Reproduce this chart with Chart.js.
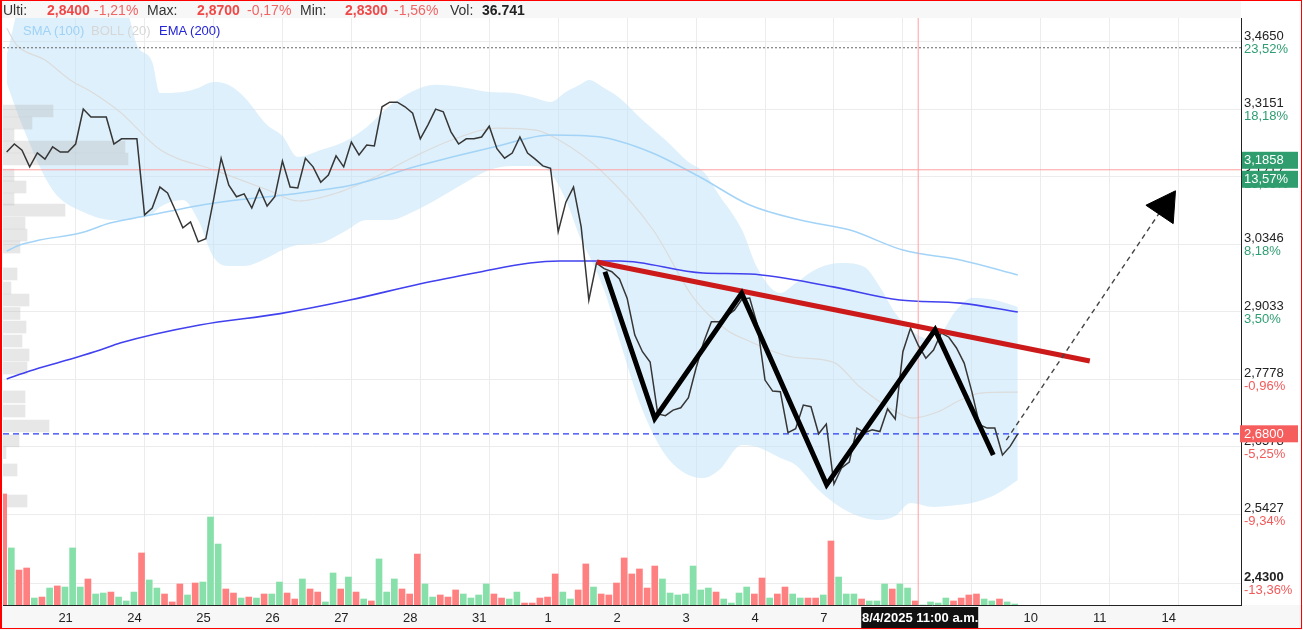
<!DOCTYPE html>
<html>
<head>
<meta charset="utf-8">
<script src="https://cdn.jsdelivr.net/npm/chart.js@4.4.1/dist/chart.umd.min.js"></script>
<style>
  body { margin: 0; background: #fff; }
  #wrap { position: relative; width: 1303px; height: 630px; font-family: "Liberation Sans", Arial, sans-serif; }
  #chart { position: absolute; left: 0; top: 0; }
  .t { position: absolute; white-space: nowrap; }
  .hd { top: 1px; font-size: 14px; line-height: 18px; }
  .lb { color: #333; }
  .vl { color: #f04848; font-weight: bold; }
  .pc { color: #f26464; }
  .lg { top: 23px; font-size: 13px; line-height: 16px; }
  #frame { position: absolute; left: 0; top: 0; width: 1302px; height: 629px; box-sizing: border-box;
           border: 1px solid #ff0000; border-left-width: 2px; pointer-events: none; }
</style>
</head>
<body>
<div id="wrap">
  <canvas id="chart" width="1303" height="630"></canvas>

  <span class="t hd lb" style="left:3px">Ulti:</span>
  <span class="t hd vl" style="left:47px">2,8400</span>
  <span class="t hd pc" style="left:94px">-1,21%</span>
  <span class="t hd lb" style="left:147px">Max:</span>
  <span class="t hd vl" style="left:197px">2,8700</span>
  <span class="t hd pc" style="left:247px">-0,17%</span>
  <span class="t hd lb" style="left:300px">Min:</span>
  <span class="t hd vl" style="left:345px">2,8300</span>
  <span class="t hd pc" style="left:394px">-1,56%</span>
  <span class="t hd lb" style="left:450px">Vol:</span>
  <span class="t hd" style="left:482px;color:#222;font-weight:bold">36.741</span>

  <span class="t lg" style="left:23px;color:#9fd2f6">SMA (100)</span>
  <span class="t lg" style="left:91px;color:#d6d6d6">BOLL (20)</span>
  <span class="t lg" style="left:159px;color:#2424d8">EMA (200)</span>

  <div id="frame"></div>
</div>

<script>
// hourly bars, 9 per session; x value = bar index
const dayTicks  = [9, 18, 27, 36, 45, 54, 63, 72, 81, 90, 99, 108, 117, 126, 135, 144, 153];
const dayLabels = ['21', '24', '25', '26', '27', '28', '31', '1', '2', '3', '4', '7', '8', '9', '10', '11', '14'];

const yTicks   = [3.4650, 3.3151, 3.1717, 3.0346, 2.9033, 2.7778, 2.6578, 2.5427, 2.4300];
const yTickPct = ['23,52%', '18,18%', '13,06%', '8,18%', '3,50%', '-0,96%', '-5,25%', '-9,34%', '-13,36%'];

// last price per bar
const price = [
  3.223, 3.240, 3.227, 3.192, 3.221, 3.208, 3.234, 3.223, 3.223,
  3.240, 3.315, 3.298, 3.298, 3.298, 3.240, 3.251, 3.251, 3.251,
  3.093, 3.107, 3.150, 3.138, 3.103, 3.067, 3.079, 3.039, 3.045,
  3.123, 3.210, 3.154, 3.130, 3.136, 3.107, 3.146, 3.111, 3.130,
  3.204, 3.150, 3.148, 3.210, 3.192, 3.160, 3.175, 3.215, 3.192,
  3.244, 3.217, 3.238, 3.236, 3.320, 3.330, 3.330, 3.320, 3.306,
  3.251, 3.281, 3.315, 3.309, 3.266, 3.240, 3.251, 3.251, 3.255,
  3.278, 3.230, 3.210, 3.221, 3.255, 3.221, 3.208, 3.194, 3.189,
  3.059, 3.119, 3.150, 3.069, 2.925, 2.997, 2.986, 2.980, 2.966,
  2.929, 2.859, 2.828, 2.809, 2.715, 2.712, 2.722, 2.726, 2.744,
  2.798, 2.846, 2.884, 2.884, 2.895, 2.906, 2.927, 2.929, 2.878,
  2.776, 2.756, 2.755, 2.682, 2.689, 2.731, 2.728, 2.680, 2.697,
  2.593, 2.621, 2.631, 2.690, 2.682, 2.687, 2.684, 2.724, 2.706,
  2.828, 2.872, 2.840, 2.816, 2.831, 2.863, 2.855, 2.835, 2.807,
  2.755, 2.696, 2.690, 2.690, 2.643, 2.658, 2.680
];

// volume per bar (thousands) and bar direction
const volume = [
  1020, 524, 321, 340, 64, 73, 156, 175, 165,
  524, 165, 239, 101, 110, 119, 73, 37, 119,
  478, 230, 156, 101, 28, 193, 92, 202, 211,
  808, 560, 147, 110, 64, 73, 64, 101, 101,
  211, 110, 55, 239, 147, 119, 28, 294, 147,
  257, 119, 55, 37, 423, 119, 239, 147, 101,
  468, 193, 73, 92, 73, 138, 101, 64, 92,
  193, 101, 64, 55, 119, 18, 18, 64, 73,
  285, 119, 55, 138, 377, 165, 101, 92, 202,
  432, 285, 331, 156, 358, 239, 110, 92, 101,
  358, 138, 156, 119, 55, 18, 110, 165, 101,
  248, 64, 101, 165, 101, 64, 64, 64, 92,
  588, 257, 101, 101, 55, 37, 37, 193, 147,
  193, 156, 37, 0, 28, 18, 64, 37, 64,
  92, 101, 55, 37, 55, 28, 9
];
const volDir = ('RGRRGRGRG' + 'GGRGGRGGG' + 'RGGRRRGRG' + 'GGRRGRGRG' + 'GRRGRRGGR' +
                'GRGRGGGRR' + 'RGGRRRGGG' + 'GRRGGRRRR' + 'RGGRRGRRR' + 'RRRRRGGGG' +
                'GGGRGGGGR' + 'RGRRGGRRG' + 'RGGGRGGGR' + 'GGRGGGGRR' + 'RRGGRGG').split('');

// SMA(100)
const smaX = [0, 1.7, 4.3, 9.6, 13.5, 18.1, 27.1, 36.1, 45.1, 54.1, 63.6, 71.1, 77.5, 84, 90.5, 97, 103.6, 110.1, 117, 124.5, 132];
const smaY = [3.0206, 3.0326, 3.0425, 3.0565, 3.0766, 3.0908, 3.1172, 3.1336, 3.1542, 3.1957, 3.2337, 3.2593, 3.2549, 3.2231, 3.1708, 3.1131, 3.0826, 3.0625, 3.0226, 3.0030, 2.9737];

// EMA(200)
const emaX = [0, 3, 7.9, 12.2, 14.8, 25.2, 35.7, 44.8, 53.9, 61.8, 68.3, 72.2, 80.1, 90.9, 97, 107.9, 116.6, 124.5, 132];
const emaY = [2.7778, 2.7925, 2.8126, 2.8311, 2.8441, 2.8779, 2.8995, 2.9253, 2.9563, 2.9796, 2.9972, 3.0011, 3.0011, 2.9776, 2.9757, 2.9506, 2.9253, 2.9195, 2.9025];

// BOLL(20) bands
const bandX = [0, 2, 6, 10, 14, 16, 17, 19, 20, 23, 25, 27, 29, 31, 34, 36, 38, 41, 44, 47, 50, 53, 56, 60, 63, 66, 69, 71, 73, 75,
               76, 78, 80, 83, 86, 89, 91, 93, 96, 98, 101, 103, 106, 109, 112, 114, 116, 118, 121, 124, 126, 129, 132];
const bandUpper = [3.4344, 3.56, 3.58, 3.58, 3.56, 3.5187, 3.4570, 3.4187, 3.3500, 3.3522, 3.3610, 3.3742, 3.3676, 3.3413, 3.2805,
                   3.2570, 3.2125, 3.2273, 3.2442, 3.2760, 3.3220, 3.3540, 3.3680, 3.3610, 3.3522, 3.3500, 3.3391, 3.3303, 3.3522,
                   3.3698, 3.3787, 3.3610, 3.3391, 3.2913, 3.2485, 3.2020, 3.1811, 3.1336, 3.0626, 2.9873, 2.9388, 2.9581, 2.9873,
                   2.9971, 2.9892, 2.9503, 2.9005, 2.8684, 2.8497, 2.9062, 2.9292, 2.9253, 2.9120];
const bandLower = [3.3720, 3.2805, 3.1438, 3.0989, 3.0826, 3.0826, 3.0867, 3.0948, 3.1090, 3.1233, 3.0826, 3.0089, 2.9912, 2.9912,
                   3.0069, 3.0227, 3.0326, 3.0366, 3.0585, 3.0826, 3.0826, 3.0989, 3.1233, 3.1603, 3.1853, 3.1936, 3.1936, 3.1790,
                   3.1233, 3.0425, 3.0128, 2.9445, 2.8497, 2.7220, 2.6430, 2.6086, 2.6035, 2.6171, 2.6603, 2.6568, 2.6378, 2.6257,
                   2.5831, 2.5528, 2.5362, 2.5329, 2.5395, 2.5612, 2.5545, 2.5578, 2.5612, 2.5746, 2.6001];
const midX = [0, 1.3, 5, 8.3, 11.3, 14.8, 20.1, 27.1, 34.1, 38.1, 43.1, 48.1, 53.1, 58.1, 64.1, 69.1, 72.1, 77.5, 84.4, 89.6,
              94, 96.6, 102.6, 107.9, 111.4, 115.7, 118.3, 121.5, 124.5, 127.1, 132];
const midY = [3.4957, 3.4570, 3.4232, 3.3787, 3.3500, 3.3086, 3.2273, 3.1853, 3.1438, 3.1213, 3.1377, 3.1707, 3.2125, 3.2485, 3.2741,
              3.2698, 3.2485, 3.1853, 3.0626, 2.9311, 2.8684, 2.8497, 2.8182, 2.8089, 2.7633, 2.7220, 2.7078, 2.7185, 2.7400, 2.7525, 2.7543];

// volume by price (left profile)
const profPrice = [3.3238, 3.2978, 3.2720, 3.2464, 3.2210, 3.1873, 3.1625, 3.1377, 3.1151, 3.0888, 3.0645, 3.0405, 2.9875, 2.9601,
                   2.9369, 2.9111, 2.8854, 2.8591, 2.8331, 2.8089, 2.7563, 2.7311, 2.7043, 2.6782, 2.6574, 2.6276, 2.5747];
const profVol = [1000, 580, 220, 2440, 2500, 220, 460, 220, 1240, 440, 480, 340, 280, 160, 520, 340, 460, 380, 520, 480, 440, 440,
                 920, 320, 60, 280, 480];

// levels and drawings
const lastPrice = 2.68;
const topLevel = 3.4508;
const crossIdx = 119;
const crossPrice = 3.1858;
const trendX = [77.05, 141.4];
const trendY = [2.9991, 2.8108];
const zigX = [78.1, 84.6, 95.95, 107.05, 121.2, 128.8];
const zigY = [2.980, 2.707, 2.938, 2.592, 2.869, 2.643];
const arrowX = [130.5, 150.7];
const arrowY = [2.669, 3.102];
const arrowHeadX = [151.2];
const arrowHeadY = [3.110];

const X_MIN = -0.48, X_MAX = 161.14;
const Y_MIN = 2.3958, Y_MAX = 3.5187;
const FONT = '"Liberation Sans", Arial, sans-serif';

const pts = (xs, ys) => xs.map((x, i) => ({ x: x, y: ys[i] }));
const fmt = v => v.toFixed(4).replace('.', ',');

function line(data, color, width, extra) {
  return Object.assign({
    type: 'line', data: data, borderColor: color, borderWidth: width,
    pointRadius: 0, pointHoverRadius: 0, fill: false, tension: 0
  }, extra || {});
}

// no extra room for half tick labels at the ends of the axes
function noPad(s) {
  s.paddingLeft = 0; s.paddingRight = 0; s.paddingTop = 0; s.paddingBottom = 0;
}

const overlay = {
  id: 'overlay',
  beforeDraw(chart) {
    const ctx = chart.ctx, a = chart.chartArea;
    ctx.save();
    ctx.fillStyle = '#f7f7f7';
    ctx.fillRect(0, 0, a.right, a.top);
    ctx.fillRect(0, a.bottom, chart.width, chart.height - a.bottom);
    ctx.restore();
  },
  afterDraw(chart) {
    const ctx = chart.ctx, a = chart.chartArea;
    const ys = chart.scales.y, xs = chart.scales.x;
    const lx = a.right;
    ctx.save();
    ctx.textBaseline = 'middle';
    ctx.textAlign = 'left';
    ctx.font = '13px ' + FONT;

    // percent line under each price tick
    ys.ticks.forEach(t => {
      const i = yTicks.indexOf(t.value);
      if (i < 0) return;
      const py = ys.getPixelForValue(t.value);
      ctx.fillStyle = yTickPct[i].charAt(0) === '-' ? '#f25a5a' : '#2e9e72';
      ctx.fillText(yTickPct[i], lx + 3, py + 7.5);
    });

    // last price marker
    let py = ys.getPixelForValue(lastPrice);
    ctx.fillStyle = '#f65e5e';
    ctx.fillRect(lx - 1, py - 8.5, 58, 17);
    ctx.fillStyle = '#fff';
    ctx.fillText(fmt(lastPrice), lx + 3, py + 0.5);

    // crosshair price marker
    py = ys.getPixelForValue(crossPrice);
    ctx.fillStyle = '#2f9d6e';
    ctx.fillRect(lx + 1, py - 18, 56, 17);
    ctx.fillRect(lx + 1, py + 1, 56, 17);
    ctx.fillStyle = '#fff';
    ctx.fillText(fmt(crossPrice), lx + 3, py - 9);
    ctx.fillText('13,57%', lx + 3, py + 10);

    // crosshair date marker
    const px = xs.getPixelForValue(crossIdx);
    ctx.beginPath();
    ctx.rect(px - 57, a.bottom + 2, 117, 21);
    ctx.fillStyle = '#111';
    ctx.fill();
    ctx.clip();
    ctx.fillStyle = '#fff';
    ctx.font = 'bold 13px ' + FONT;
    ctx.textAlign = 'center';
    ctx.fillText('8/4/2025 11:00 a.m.', px + 2, a.bottom + 13.5);
    ctx.restore();
  }
};

new Chart(document.getElementById('chart'), {
  type: 'line',
  data: {
    datasets: [
      line(pts(bandX, bandUpper), 'rgba(0,0,0,0)', 1,
        { fill: '+1', backgroundColor: 'rgba(190,225,248,0.5)', cubicInterpolationMode: 'monotone', order: 20 }),
      line(pts(bandX, bandLower), 'rgba(0,0,0,0)', 1, { cubicInterpolationMode: 'monotone', order: 19 }),
      line(pts(midX, midY), '#dcdcdc', 1.2, { cubicInterpolationMode: 'monotone', order: 18 }),
      {
        type: 'bar', indexAxis: 'y', xAxisID: 'xProf', yAxisID: 'y',
        data: pts(profVol, profPrice),
        backgroundColor: 'rgba(180,180,180,0.32)', borderWidth: 0, barThickness: 12, order: 17
      },
      line(pts(smaX, smaY), '#a3d4f7', 1.5, { cubicInterpolationMode: 'monotone', order: 16 }),
      line(pts(emaX, emaY), '#4141ef', 1.6, { cubicInterpolationMode: 'monotone', order: 15 }),
      {
        type: 'bar', xAxisID: 'x', yAxisID: 'yVol',
        data: volume.map((v, i) => ({ x: i, y: v })),
        backgroundColor: volDir.map(d => d === 'G' ? '#87e0a9' : '#ff8080'),
        borderWidth: 0, barThickness: 6, order: 14
      },
      line([{ x: X_MIN, y: lastPrice }, { x: X_MAX, y: lastPrice }], '#2a3cf0', 1.2, { borderDash: [6, 4], order: 13 }),
      line([{ x: X_MIN, y: topLevel }, { x: X_MAX, y: topLevel }], '#666', 1, { borderDash: [2, 2], order: 13 }),
      line([{ x: X_MIN, y: crossPrice }, { x: X_MAX, y: crossPrice }], '#ffa0a0', 1, { order: 13 }),
      line([{ x: crossIdx, y: Y_MIN }, { x: crossIdx, y: Y_MAX }], '#ffa0a0', 1, { order: 13 }),
      line(price.map((v, i) => ({ x: i, y: v })), '#363636', 1.5, { order: 10 }),
      line(pts(trendX, trendY), '#cc1a1a', 5, { order: 5 }),
      line(pts(zigX, zigY), '#000', 5, { borderJoinStyle: 'miter', order: 4 }),
      line(pts(arrowX, arrowY), '#444', 1.4, { borderDash: [5, 4], order: 3 }),
      line(pts(arrowHeadX, arrowHeadY), '#000', 1, {
        showLine: false, pointStyle: 'triangle', pointRadius: 19, pointRotation: 34,
        pointBackgroundColor: '#000', pointBorderColor: '#000', order: 2
      })
    ]
  },
  options: {
    responsive: false,
    animation: false,
    devicePixelRatio: 1,
    layout: { autoPadding: false, padding: { left: 3, top: 18, right: 0, bottom: 0 } },
    plugins: { legend: { display: false }, tooltip: { enabled: false } },
    events: [],
    scales: {
      x: {
        type: 'linear', position: 'bottom', min: X_MIN, max: X_MAX, offset: false,
        grid: { color: '#ececec', drawTicks: false, offset: false },
        border: { color: '#222', width: 1 },
        ticks: {
          autoSkip: false, maxRotation: 0, labelOffset: -10, padding: 6, color: '#222',
          font: { family: FONT, size: 13 },
          callback: v => { const i = dayTicks.indexOf(v); return i < 0 ? '' : dayLabels[i]; }
        },
        afterBuildTicks: s => { s.ticks = dayTicks.map(v => ({ value: v })); },
        afterFit: s => { s.height = 25; noPad(s); }
      },
      y: {
        type: 'logarithmic', position: 'right', min: Y_MIN, max: Y_MAX, offset: false,
        grid: { color: '#ececec', drawTicks: false, offset: false },
        border: { color: '#222', width: 1 },
        ticks: {
          padding: 3, color: '#222',
          font: c => ({ family: FONT, size: 13, lineHeight: 0.85,
                        weight: (c.tick && c.tick.value === 2.43) ? 'bold' : 'normal' }),
          callback: v => [fmt(v), ' ']
        },
        afterBuildTicks: s => { s.ticks = yTicks.map(v => ({ value: v })); },
        afterFit: s => { s.width = 62; noPad(s); }
      },
      yVol: { type: 'linear', display: false, min: 0, max: 5392 },
      xProf: { type: 'linear', display: false, min: 0, max: 24760 }
    }
  },
  plugins: [overlay]
});
</script>
</body>
</html>
